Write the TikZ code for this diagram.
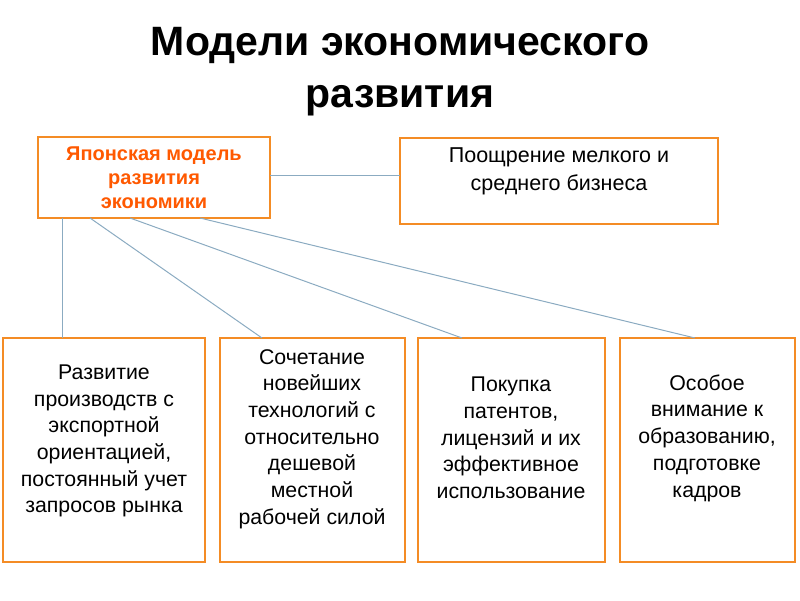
\documentclass[tikz,border=0pt]{standalone}
\usepackage{fontspec}
\setmainfont{Liberation Sans}
\begin{document}
\begin{tikzpicture}[x=1pt,y=-1pt,
  bx/.style={draw=orange!80!brown!90,line width=1.6pt,fill=white,inner sep=0pt},
  txt/.style={align=center,font=\fontsize{21.3}{26.7}\selectfont},
  ln/.style={draw=blue!40!cyan!30!gray!70,line width=1pt}]
\useasboundingbox (0,0) rectangle (800,600);
\node[font=\fontsize{41}{52}\selectfont\bfseries,align=center] (title) at (400,72) {Модели экономического\\развития};
\draw[bx] (38,137) rectangle (270,218);
\node[txt,text=orange!70!red,font=\fontsize{20}{24}\selectfont\bfseries] (jm) at (154,178) {Японская модель\\развития\\экономики};
\draw[bx] (400,138) rectangle (718,224);
\node[txt,font=\fontsize{21.5}{28}\selectfont] (sb) at (559,171) {Поощрение мелкого и\\среднего бизнеса};
\coordinate (a1) at (270,175); \coordinate (a2) at (400,175);
\draw[ln] (a1) -- (a2);
\draw[bx] (3,338) rectangle (205,562);
\draw[bx] (220,338) rectangle (405,562);
\draw[bx] (418,338) rectangle (605,562);
\draw[bx] (620,338) rectangle (795,562);
\coordinate (s1) at (62,218); \coordinate (e1) at (62,338);
\coordinate (s2) at (90,218); \coordinate (e2) at (262,338);
\coordinate (s3) at (130,218); \coordinate (e3) at (462,338);
\coordinate (s4) at (200,218); \coordinate (e4) at (695,338);
\draw[ln] (s1)--(e1); \draw[ln] (s2)--(e2); \draw[ln] (s3)--(e3); \draw[ln] (s4)--(e4);
\node[txt] (A) at (104,441) {Развитие\\производств с\\экспортной\\ориентацией,\\постоянный учет\\запросов рынка};
\node[txt] (B) at (312,439) {Сочетание\\новейших\\технологий с\\относительно\\дешевой\\местной\\рабочей силой};
\node[txt] (C) at (511,438) {Покупка\\патентов,\\лицензий и их\\эффективное\\использование};
\node[txt] (D) at (707,438) {Особое\\внимание к\\образованию,\\подготовке\\кадров};
\end{tikzpicture}
\end{document}
